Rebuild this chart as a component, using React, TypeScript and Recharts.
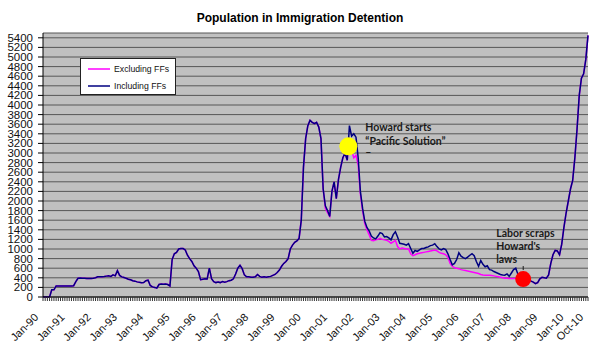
import {
  LineChart,
  Line,
  XAxis,
  YAxis,
  CartesianGrid,
  Legend,
  ReferenceDot,
} from 'recharts';

// monthly values, Jan-90 .. Oct-10 (one row per year)
const including = [
  0, 0, 0, 0, 150, 150, 230, 230, 230, 230, 230, 230,
  230, 230, 235, 320, 390, 395, 390, 390, 385, 385, 385, 390,
  400, 420, 420, 420, 425, 435, 440, 430, 460, 440, 550, 450,
  420, 405, 390, 370, 360, 340, 330, 315, 305, 298, 300, 340,
  350, 240, 210, 200, 185, 260, 270, 265, 270, 260, 230, 780,
  900, 930, 1000, 1010, 1010, 980, 870, 800, 740, 650, 600, 530,
  360, 370, 380, 375, 600, 380, 320, 300, 310, 300, 320, 310,
  320, 340, 350, 380, 480, 600, 660, 590, 460, 420, 420, 410,
  410, 420, 470, 430, 410, 420, 410, 420, 430, 450, 470, 510,
  560, 640, 700, 740, 800, 1000, 1080, 1140, 1170, 1220, 1600, 2700,
  3300, 3570, 3680, 3640, 3610, 3640, 3540, 3300, 2250, 1900, 1800, 1680,
  2200, 2400, 2050, 2450, 2700, 2900, 3000, 2850, 3570, 3350, 3400, 3330,
  2900, 2200, 1850, 1580, 1450, 1380, 1270, 1230, 1210, 1270, 1340, 1320,
  1250, 1260, 1230, 1190, 1300, 1360, 1250, 1120, 1110, 1100, 1080, 1110,
  1010, 910, 970, 950, 980, 1010, 1010, 1030, 1045, 1070, 1080, 1110,
  1050, 1000, 980, 1010, 990, 900, 780, 670, 700, 780, 920, 850,
  820, 800, 830, 870, 900, 860, 740, 640, 760, 680, 630, 650,
  570, 560, 530, 510, 490, 470, 460, 455, 480, 430, 500, 570,
  600, 470, 420, 400, 390, 380, 360, 330, 310, 280, 300, 380,
  410, 400, 390, 460, 700, 880, 970, 960, 880, 1100, 1450, 1750,
  2000, 2250, 2430, 2900, 3500, 4200, 4560, 4650, 4950, 5450,
];

const excluding = [
  0, 0, 0, 0, 150, 150, 230, 230, 230, 230, 230, 230,
  230, 230, 235, 320, 390, 395, 390, 390, 385, 385, 385, 390,
  400, 420, 420, 420, 425, 435, 440, 430, 460, 440, 550, 450,
  420, 405, 390, 370, 360, 340, 330, 315, 305, 298, 300, 340,
  350, 240, 210, 200, 185, 260, 270, 265, 270, 260, 230, 780,
  900, 930, 1000, 1010, 1010, 980, 870, 800, 740, 650, 600, 530,
  360, 370, 380, 375, 600, 380, 320, 300, 310, 300, 320, 310,
  320, 340, 350, 380, 480, 600, 660, 590, 460, 420, 420, 410,
  410, 420, 470, 430, 410, 420, 410, 420, 430, 450, 470, 510,
  560, 640, 700, 740, 800, 1000, 1080, 1140, 1170, 1220, 1600, 2700,
  3300, 3570, 3680, 3640, 3610, 3640, 3540, 3300, 2250, 1850, 1760, 1680,
  2200, 2400, 2050, 2450, 2700, 2900, 3000, 2850, 3300, 3050, 2900, 2950,
  2750, 2150, 1800, 1530, 1400, 1300, 1180, 1170, 1190, 1200, 1220, 1200,
  1190, 1180, 1160, 1120, 1150, 1180, 1050, 1000, 1020, 1010, 1000, 1000,
  900, 860, 880, 900, 910, 920, 930, 940, 950, 960, 970, 980,
  960, 930, 910, 900, 880, 830, 700, 640, 610, 600, 590, 570,
  560, 550, 540, 530, 520, 510, 500, 490, 470, 460, 455, 455,
  455, 450, 440, 430, 420, 410, 400, 390, 390, 385, 385, 385,
  390, 390, 390, 385, 380, 380, 360, 330, 310, 280, 300, 380,
  410, 400, 390, 460, 700, 880, 970, 960, 880, 1100, 1450, 1750,
  2000, 2250, 2430, 2900, 3500, 4200, 4560, 4650, 4950, 5450,
];

const tickIndex = [0, 12, 24, 36, 48, 60, 72, 84, 96, 108, 120, 132, 144, 156, 168, 180, 192, 204, 216, 228, 240, 249];
const tickLabels = [
  'Jan-90', 'Jan-91', 'Jan-92', 'Jan-93', 'Jan-94', 'Jan-95', 'Jan-96', 'Jan-97',
  'Jan-98', 'Jan-99', 'Jan-00', 'Jan-01', 'Jan-02', 'Jan-03', 'Jan-04', 'Jan-05',
  'Jan-06', 'Jan-07', 'Jan-08', 'Jan-09', 'Jan-10', 'Oct-10',
];
const yTicks = [
  0, 200, 400, 600, 800, 1000, 1200, 1400, 1600, 1800, 2000, 2200, 2400, 2600,
  2800, 3000, 3200, 3400, 3600, 3800, 4000, 4200, 4400, 4600, 4800, 5000, 5200, 5400,
];

const howardNote = ['Howard starts', '\u201cPacific Solution\u201d', '\u2013'];
const laborNote = ['Labor scraps', "Howard's", 'laws'];

const data = including.map((v, i) => ({ i, including: v, excluding: excluding[i] }));
const allMonths = including.map((_, i) => i);

const AXIS_FONT = '"Liberation Sans", Arial, sans-serif';
const NOTE_FONT = 'Lato, "Open Sans", sans-serif';

function MonthTick({ x, y, payload }: any) {
  const k = tickIndex.indexOf(payload.value);
  if (k < 0) return <g />;
  const tx = x - 4;
  const ty = y + 15;
  return (
    <text
      x={tx}
      y={ty}
      transform={`rotate(-45, ${tx}, ${ty})`}
      textAnchor="end"
      fontSize={11}
      fontFamily={AXIS_FONT}
      fill="#111"
    >
      {tickLabels[k]}
    </text>
  );
}

function Note({ viewBox, lines, dx, dys, mark }: any) {
  const cx = viewBox.x + viewBox.width / 2;
  const cy = viewBox.y + viewBox.height / 2;
  return (
    <g>
      <text fontSize={10.5} fontWeight="bold" fontFamily={NOTE_FONT} fill="#1a1a1a">
        {lines.map((t: string, k: number) => (
          <tspan key={k} x={cx + dx} y={cy + dys[k]}>
            {t}
          </tspan>
        ))}
      </text>
      {mark && <line x1={cx} x2={cx} y1={cy - 13} y2={cy - 9} stroke="#1a1a1a" />}
    </g>
  );
}

function LegendBox({ payload }: any) {
  return (
    <div
      style={{
        position: 'relative',
        width: 96,
        height: 37,
        background: '#fff',
        border: '1px solid #222',
        boxSizing: 'border-box',
        fontFamily: AXIS_FONT,
        fontSize: 8.7,
        color: '#111',
      }}
    >
      {(payload || []).map((entry: any, k: number) => (
        <div
          key={entry.value}
          style={{ position: 'absolute', left: 7, top: 3 + k * 17.5, height: 13, display: 'flex', alignItems: 'center' }}
        >
          <svg width={22} height={4} style={{ marginRight: 4 }}>
            <line x1={0} x2={22} y1={2} y2={2} stroke={entry.color} strokeWidth={1.5} />
          </svg>
          <span>{entry.value}</span>
        </div>
      ))}
    </div>
  );
}

export default function App() {
  return (
    <div style={{ position: 'absolute', left: 0, top: 0, width: 600, height: 356, background: '#fff' }}>
      <div
        style={{
          position: 'absolute',
          top: 11,
          left: 0,
          width: 600,
          textAlign: 'center',
          fontFamily: AXIS_FONT,
          fontWeight: 'bold',
          fontSize: 12,
          color: '#000',
        }}
      >
        Population in Immigration Detention
      </div>
      <LineChart width={600} height={356} data={data} margin={{ top: 33, right: 12, bottom: 0, left: 0 }}>
        <CartesianGrid vertical={false} fill="#c0c0c0" stroke="#575757" />
        <XAxis
          dataKey="i"
          type="number"
          domain={[0, 249]}
          ticks={allMonths}
          interval={0}
          tickSize={4}
          height={59}
          axisLine={{ stroke: '#000' }}
          tickLine={{ stroke: '#333' }}
          tick={(p: any) => <MonthTick {...p} />}
        />
        <YAxis
          domain={[0, 5500]}
          ticks={yTicks}
          interval={0}
          width={43}
          tickSize={5}
          tickMargin={5}
          axisLine={{ stroke: '#000' }}
          tickLine={{ stroke: '#000' }}
          tick={{ fontSize: 11.5, fill: '#111', fontFamily: AXIS_FONT }}
        />
        <Legend
          layout="vertical"
          align="center"
          verticalAlign="middle"
          wrapperStyle={{ left: 80, top: 58, width: 96, height: 37 }}
          content={(p: any) => <LegendBox {...p} />}
        />
        <Line
          type="linear"
          dataKey="excluding"
          name="Excluding FFs"
          stroke="#ff00ff"
          strokeWidth={1.5}
          dot={false}
          isAnimationActive={false}
        />
        <Line
          type="linear"
          dataKey="including"
          name="Including FFs"
          stroke="#000080"
          strokeWidth={1.5}
          dot={false}
          isAnimationActive={false}
        />
        <ReferenceDot
          x={139.5}
          y={3140}
          r={9}
          fill="#ffff00"
          stroke="none"
          label={{ content: (p: any) => <Note {...p} lines={howardNote} dx={17} dys={[-15, -1, 10]} /> }}
        />
        <ReferenceDot
          x={219.4}
          y={374}
          r={8}
          fill="#ff0000"
          stroke="none"
          label={{ content: (p: any) => <Note {...p} lines={laborNote} dx={-27} dys={[-42, -29.5, -16]} mark /> }}
        />
      </LineChart>
    </div>
  );
}
